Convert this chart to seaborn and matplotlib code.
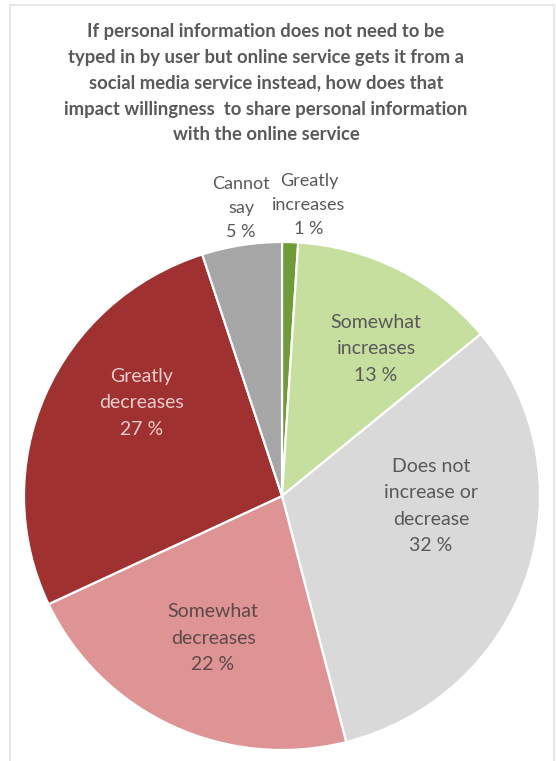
import matplotlib
matplotlib.use("Agg")
import matplotlib.pyplot as plt
import seaborn as sns

sns.set_theme(style="white")
plt.rcParams["font.family"] = ["Lato", "DejaVu Sans"]

# Survey answers, clockwise from 12 o'clock
categories = ["Greatly\nincreases", "Somewhat\nincreases", "Does not\nincrease or\ndecrease",
              "Somewhat\ndecreases", "Greatly\ndecreases", "Cannot\nsay"]
shares = [1, 13, 32, 22, 27, 5]
colors = ["#6f9b38", "#c6df9e", "#d9d9d9", "#de9494", "#9f3131", "#a6a6a6"]
label_colors = ["#595959", "#595959", "#595959", "#5e4848", "#f3cccc", "#595959"]

title_lines = [
    "If personal information does not need to be",
    "typed in by user but online service gets it from a",
    "social media service instead, how does that",
    "impact willingness  to share personal information",
    "with the online service",
]

W, H = 556, 761
fig = plt.figure(figsize=(W / 100, H / 100), dpi=100)
fig.patch.set_facecolor("white")

# pie axes: center at (282, 496) px, radii 258 x 254 px
cx, cy, rx, ry = 282, 496, 258, 254
ax = fig.add_axes([(cx - rx) / W, (H - cy - ry) / H, 2 * rx / W, 2 * ry / H])
wedges, _ = ax.pie(shares, colors=colors, startangle=90, counterclock=False,
                   wedgeprops=dict(edgecolor="white", linewidth=1.6))
ax.set_aspect("auto")
ax.set_xlim(-1, 1)
ax.set_ylim(-1, 1)
ax.axis("off")

def px(x, y):
    return x / W, 1 - y / H

# label anchor points (pixel centres of each text block) and sizes
label_xy = [(309, 205), (376, 349), (431, 506), (213, 638), (142, 403), (241, 208)]
label_size = [13, 14, 14, 14, 14, 13]
for cat, val, col, (lx, ly), fs in zip(categories, shares, label_colors, label_xy, label_size):
    fig.text(*px(lx, ly), f"{cat}\n{val} %", ha="center", va="center",
             fontsize=fs, color=col, linespacing=1.65)

for i, line in enumerate(title_lines):
    fig.text(*px(266, 31 + i * 26), line, ha="center", va="center",
             fontsize=13.3, fontweight="bold", color="#595959")

# thin light frame
frame_kw = dict(color="#e3e3e3", linewidth=1.2, transform=fig.transFigure)
fig.add_artist(plt.Line2D([10 / W, 10 / W], [0, 1 - 5 / H], **frame_kw))
fig.add_artist(plt.Line2D([10 / W, 554 / W], [1 - 5 / H, 1 - 5 / H], **frame_kw))
fig.add_artist(plt.Line2D([554 / W, 554 / W], [0, 1 - 5 / H], **frame_kw))

fig.savefig("out.png", dpi=100, facecolor="white")
